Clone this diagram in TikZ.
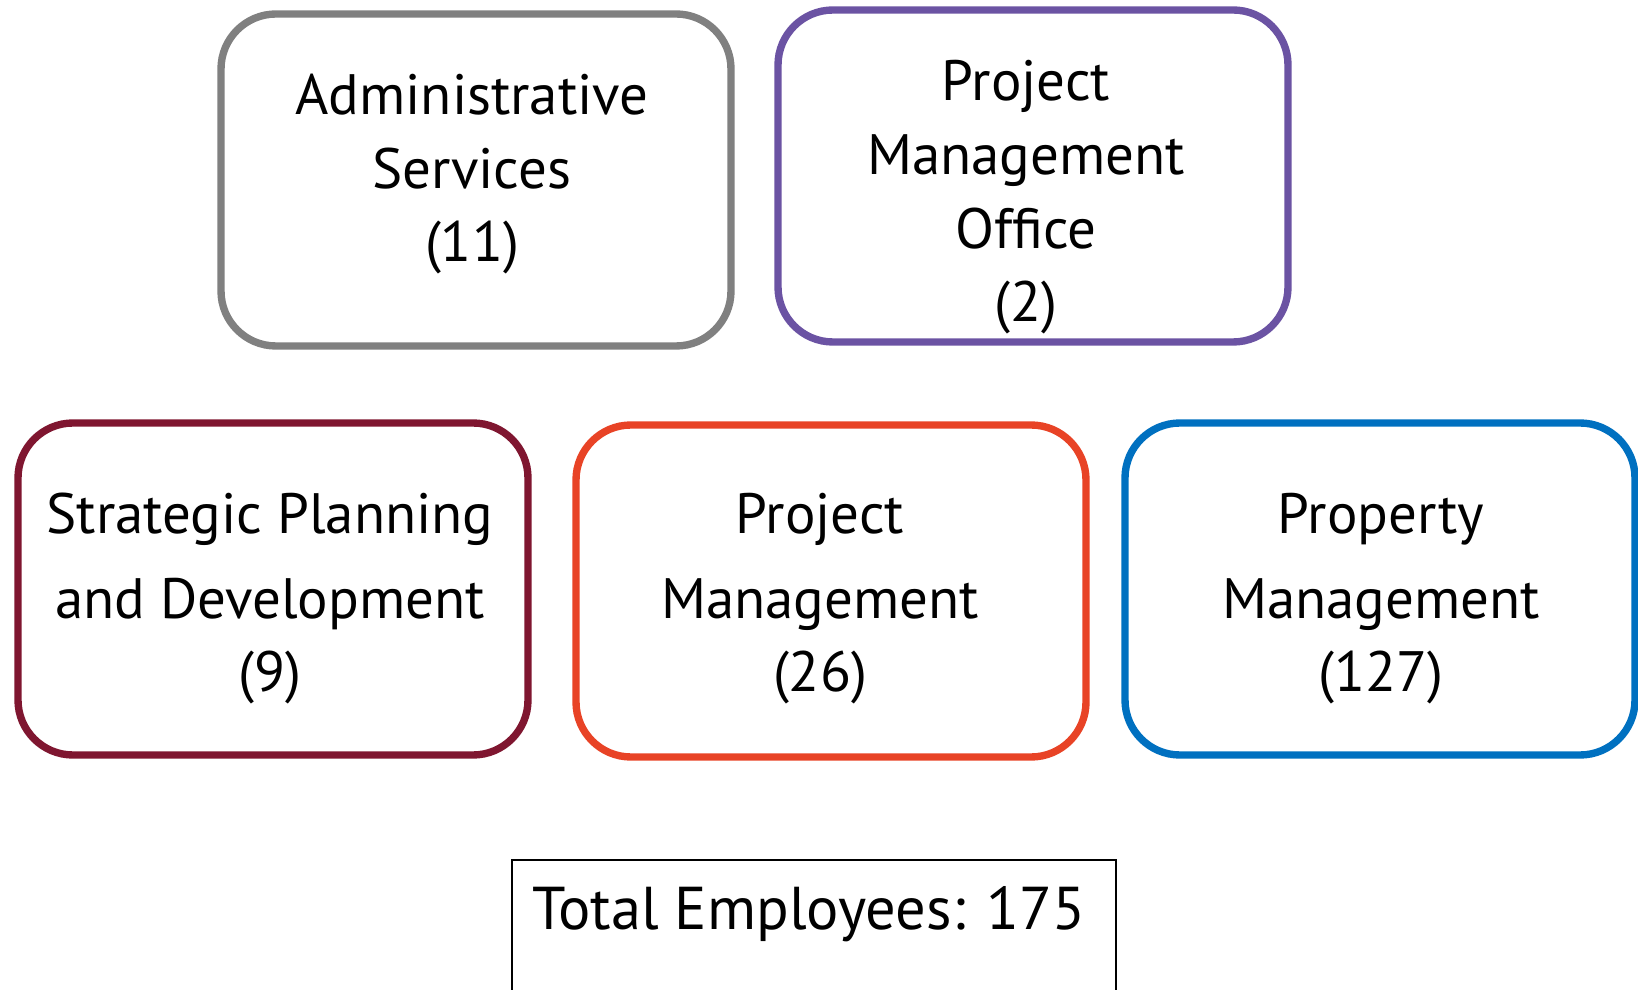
\documentclass[tikz,border=0pt]{standalone}
\usepackage{fontspec}
\setmainfont{PT Sans}
\usetikzlibrary{positioning}
\definecolor{adminGray}{RGB}{128,128,128}
\definecolor{pmoPurple}{RGB}{107,83,163}
\definecolor{spdMaroon}{RGB}{127,22,48}
\definecolor{pmOrange}{RGB}{232,67,38}
\definecolor{propBlue}{RGB}{0,112,192}
\tikzset{
  unitbox/.style={draw=#1, line width=2.1pt, rounded corners=5.5mm, minimum width=51mm, minimum height=33.2mm, inner sep=0pt},
  unitlabel/.style={font=\fontsize{16.2}{21}\selectfont, align=center, anchor=base, inner sep=0pt}
}

\begin{document}
\begin{tikzpicture}[x=0.1mm, y=-0.1mm]
  \useasboundingbox (0,0) rectangle (1638,990);
  \clip (0,0) rectangle (1638,990);

  % Top row
  \node[unitbox=adminGray] (admin) at (476,180) {};
  \node[unitlabel] (admin-txt) at (472,262) {Administrative\\Services\\(11)};

  \node[unitbox=pmoPurple] (pmo) at (1033,176) {};
  \node[unitlabel] (pmo-txt) at (1026,322) {Project\\Management\\Office\\(2)};

  % Bottom row
  \node[unitbox=spdMaroon] (spd) at (273,589) {};
  \node[unitlabel] (spd-txt) at (270,692) {Strategic Planning\\[3pt]and Development\\(9)};

  \node[unitbox=pmOrange] (pm) at (831,591) {};
  \node[unitlabel] (pm-txt) at (820,692) {Project\\[3pt]Management\\(26)};

  \node[unitbox=propBlue] (prop) at (1380,589) {};
  \node[unitlabel] (prop-txt) at (1381,692) {Property\\[3pt]Management\\(127)};

  % Total
  \node[draw, line width=0.6pt, minimum width=60.4mm, minimum height=20mm, inner sep=0pt, anchor=north] (total) at (814,859) {};
  \node[font=\fontsize{17.2}{21}\selectfont, anchor=base, inner sep=0pt] (total-txt) at (809,929) {Total Employees: 175};
\end{tikzpicture}
\end{document}
